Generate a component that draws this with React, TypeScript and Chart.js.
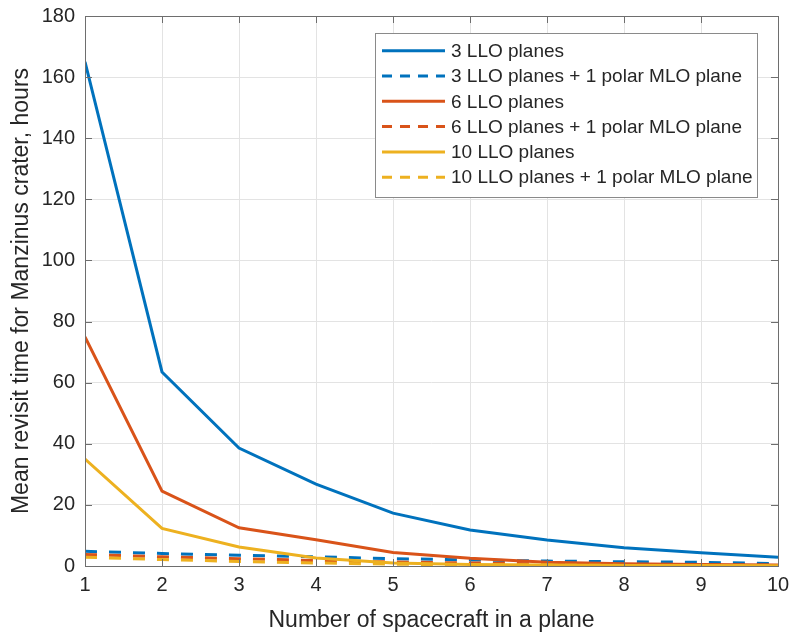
import React, { useEffect, useRef } from "react";
import { Chart, registerables } from "chart.js";

Chart.register(...registerables);

// Number of spacecraft per orbital plane
const spacecraft = [1, 2, 3, 4, 5, 6, 7, 8, 9, 10];

// Mean revisit time (hours) for each constellation layout
const llo3 = [165, 63.5, 38.6, 26.8, 17.3, 11.8, 8.5, 6.0, 4.3, 2.9];
const llo3Mlo = [4.8, 4.1, 3.5, 3.0, 2.4, 2.0, 1.6, 1.4, 1.2, 0.8];
const llo6 = [75, 24.5, 12.5, 8.6, 4.4, 2.5, 1.2, 0.7, 0.5, 0.3];
const llo6Mlo = [3.8, 3.0, 2.4, 1.8, 1.3, 1.0, 0.7, 0.5, 0.4, 0.3];
const llo10 = [35, 12.3, 6.2, 2.6, 1.0, 0.5, 0.3, 0.2, 0.15, 0.1];
const llo10Mlo = [2.9, 2.1, 1.5, 1.0, 0.6, 0.4, 0.3, 0.2, 0.15, 0.1];

const seriesLabels = [
  "3 LLO planes",
  "3 LLO planes + 1 polar MLO plane",
  "6 LLO planes",
  "6 LLO planes + 1 polar MLO plane",
  "10 LLO planes",
  "10 LLO planes + 1 polar MLO plane",
];

const yTicks = [0, 20, 40, 60, 80, 100, 120, 140, 160, 180];

const BLUE = "#0072BD";
const ORANGE = "#D95319";
const YELLOW = "#EDB120";
const FONT = "'Liberation Sans', Arial, Helvetica, sans-serif";
const TEXT = "#262626";
const AXIS = "#6e6e6e";

const toPoints = (vals: number[]) =>
  spacecraft.map((x, i) => ({ x, y: vals[i] }));

// Box around the axes, inward tick marks and the in-plot legend
const framePlugin = {
  id: "frame",
  afterDraw(chart: any) {
    const { ctx, chartArea: a, scales } = chart;
    const xs = scales.x;
    const ys = scales.y;
    ctx.save();
    ctx.strokeStyle = AXIS;
    ctx.lineWidth = 1;
    ctx.setLineDash([]);
    ctx.strokeRect(
      Math.round(a.left) + 0.5,
      Math.round(a.top) + 0.5,
      Math.round(a.right - a.left),
      Math.round(a.bottom - a.top)
    );
    const tl = 7;
    ctx.beginPath();
    spacecraft.forEach((v) => {
      const px = Math.round(xs.getPixelForValue(v)) + 0.5;
      ctx.moveTo(px, a.bottom);
      ctx.lineTo(px, a.bottom - tl);
      ctx.moveTo(px, a.top);
      ctx.lineTo(px, a.top + tl);
    });
    yTicks.forEach((v) => {
      const py = Math.round(ys.getPixelForValue(v)) + 0.5;
      ctx.moveTo(a.left, py);
      ctx.lineTo(a.left + tl, py);
      ctx.moveTo(a.right, py);
      ctx.lineTo(a.right - tl, py);
    });
    ctx.stroke();

    // legend
    const bx = 375.5;
    const by = 33.5;
    const bw = 382;
    const bh = 164;
    ctx.fillStyle = "#ffffff";
    ctx.fillRect(bx, by, bw, bh);
    ctx.strokeStyle = "#8a8a8a";
    ctx.strokeRect(bx, by, bw, bh);
    ctx.font = `19px ${FONT}`;
    ctx.textBaseline = "middle";
    ctx.textAlign = "left";
    chart.data.datasets.forEach((ds: any, i: number) => {
      const y = 50.7 + i * 25.3;
      ctx.strokeStyle = ds.borderColor;
      ctx.lineWidth = 3;
      ctx.setLineDash(ds.borderDash && ds.borderDash.length ? [10, 8] : []);
      ctx.beginPath();
      ctx.moveTo(382, y);
      ctx.lineTo(445, y);
      ctx.stroke();
      ctx.setLineDash([]);
      ctx.fillStyle = TEXT;
      ctx.fillText(ds.label, 451, y + 1);
    });
    ctx.restore();
  },
};

// Fix the scale box size and drop the label overhang padding so the plot
// area sits exactly inside the layout padding.
const fitScale = (size: number) => (s: any) => {
  if (s.isHorizontal()) s.height = size;
  else s.width = size;
  s.paddingTop = 0;
  s.paddingBottom = 0;
  s.paddingLeft = 0;
  s.paddingRight = 0;
};

export default function App() {
  const ref = useRef<HTMLCanvasElement | null>(null);

  useEffect(() => {
    if (!ref.current) return;
    const series = [llo3, llo3Mlo, llo6, llo6Mlo, llo10, llo10Mlo];
    const colors = [BLUE, BLUE, ORANGE, ORANGE, YELLOW, YELLOW];
    const chart = new Chart(ref.current, {
      type: "line",
      data: {
        datasets: series.map((vals, i) => ({
          label: seriesLabels[i],
          data: toPoints(vals),
          borderColor: colors[i],
          backgroundColor: colors[i],
          borderWidth: 3,
          borderDash: i % 2 === 1 ? [12, 12] : [],
          pointRadius: 0,
          tension: 0,
          fill: false,
          order: series.length - i,
        })),
      },
      options: {
        responsive: false,
        animation: false,
        devicePixelRatio: 1,
        layout: { padding: { top: 16, right: 15, left: 0, bottom: 0 } },
        plugins: {
          legend: { display: false },
          tooltip: { enabled: false },
        },
        scales: {
          x: {
            type: "linear",
            min: 1,
            max: 10,
            afterFit: fitScale(68),
            afterBuildTicks: (s: any) => {
              s.ticks = spacecraft.map((v) => ({ value: v }));
            },
            ticks: {
              color: TEXT,
              font: { family: FONT, size: 20 },
              padding: 7,
            },
            grid: { color: "#e3e3e3", drawTicks: false },
            border: { display: false },
            title: {
              display: true,
              text: "Number of spacecraft in a plane",
              color: TEXT,
              font: { family: FONT, size: 23 },
              padding: { top: 0, bottom: 0 },
            },
          },
          y: {
            type: "linear",
            min: 0,
            max: 180,
            afterFit: fitScale(85),
            afterBuildTicks: (s: any) => {
              s.ticks = yTicks.map((v) => ({ value: v }));
            },
            ticks: {
              color: TEXT,
              font: { family: FONT, size: 20 },
              padding: 10,
            },
            grid: { color: "#e3e3e3", drawTicks: false },
            border: { display: false },
            title: {
              display: true,
              text: "Mean revisit time for Manzinus crater, hours",
              color: TEXT,
              font: { family: FONT, size: 23 },
              padding: { top: 8, bottom: 0 },
            },
          },
        },
      },
      plugins: [framePlugin],
    });
    return () => chart.destroy();
  }, []);

  return (
    <div
      style={{
        position: "fixed",
        left: 0,
        top: 0,
        width: 793,
        height: 634,
        background: "#ffffff",
      }}
    >
      <canvas ref={ref} width={793} height={634} style={{ display: "block" }} />
    </div>
  );
}
